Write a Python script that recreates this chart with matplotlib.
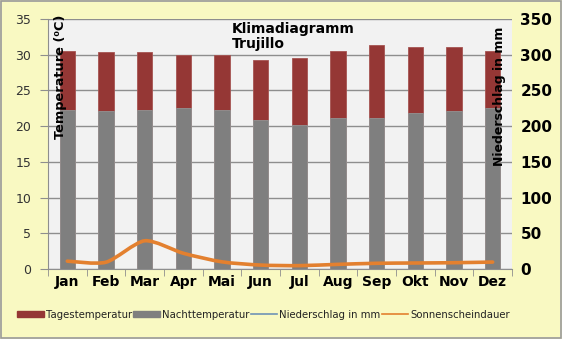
import numpy as np
import matplotlib
matplotlib.use("Agg")
import matplotlib.pyplot as plt
from matplotlib.path import Path
from matplotlib.patches import PathPatch, Patch
from matplotlib.lines import Line2D

months = ["Jan", "Feb", "Mar", "Apr", "Mai", "Jun",
          "Jul", "Aug", "Sep", "Okt", "Nov", "Dez"]
tag_temp = [30.5, 30.4, 30.4, 30.0, 30.0, 29.2, 29.6, 30.5, 31.4, 31.1, 31.1, 30.5]
nacht_temp = [22.3, 22.1, 22.3, 22.5, 22.3, 20.9, 20.2, 21.1, 21.1, 21.9, 22.1, 22.5]
niederschlag = [11, 9.5, 39.5, 22, 10, 5.5, 4.7, 6.5, 8, 8.4, 8.8, 9.7]
sonnenschein = [11, 9.5, 39.5, 22, 10, 5.5, 4.7, 6.5, 8, 8.4, 8.8, 9.7]

RED = "#953735"
GRAY = "#7f7f7f"
ORANGE = "#e3802f"
BLUE = "#6f93b5"
BG = "#f9f9c2"


def smooth_path(xs, ys, k=8.0):
    """Cardinal spline through the points, as cubic Bezier segments."""
    xs = np.asarray(xs, float); ys = np.asarray(ys, float)
    px = np.r_[xs[0], xs, xs[-1]]; py = np.r_[ys[0], ys, ys[-1]]
    verts = [(xs[0], ys[0])]; codes = [Path.MOVETO]
    for i in range(1, len(px) - 2):
        c1 = (px[i] + (px[i + 1] - px[i - 1]) / k, py[i] + (py[i + 1] - py[i - 1]) / k)
        c2 = (px[i + 1] - (px[i + 2] - px[i]) / k, py[i + 1] - (py[i + 2] - py[i]) / k)
        verts += [c1, c2, (px[i + 1], py[i + 1])]
        codes += [Path.CURVE4] * 3
    return Path(verts, codes)


fig = plt.figure(figsize=(5.62, 3.39), dpi=100, facecolor=BG)
fig.patches.append(plt.Rectangle((0.001, 0.002), 0.997, 0.995, transform=fig.transFigure,
                                 fill=False, edgecolor="#9a9a9a", lw=1.2))
ax = fig.add_axes([0.0854, 0.2065, 0.8256, 0.7375])
ax.set_facecolor("#f2f2f2")
x = np.arange(len(months))

ax.bar(x, tag_temp, width=0.4, color=RED, edgecolor="#a65452", lw=0.6, zorder=2)
ax.bar(x, nacht_temp, width=0.4, color=GRAY, edgecolor="#939393", lw=0.6, zorder=3)

ax.set_xlim(-0.5, 11.5)
ax.set_ylim(0, 35)
ax.set_yticks(range(0, 36, 5))
ax.grid(axis="y", color="#8e8e8e", lw=1.0, zorder=1)
ax.set_axisbelow(True)
ax.set_xticks(x)
ax.set_xticklabels(months, fontsize=10, fontweight="bold")
ax.set_xticks(np.arange(-0.5, 12, 1), minor=True)
ax.tick_params(axis="x", which="major", length=0, pad=4)
ax.tick_params(axis="x", which="minor", length=5, color="#8e8e8e")
ax.tick_params(axis="y", length=6, color="#8e8e8e", labelsize=9, labelcolor="#333333", pad=6)
for s in ["top", "right"]:
    ax.spines[s].set_visible(False)
for s in ["left", "bottom"]:
    ax.spines[s].set_color("#8e8e8e")

ax2 = ax.twinx()
ax2.set_ylim(0, 350)
ax2.set_yticks(range(0, 351, 50))
ax2.tick_params(axis="y", length=0, labelsize=11, pad=6)
for lab in ax2.get_yticklabels():
    lab.set_fontweight("bold")
for s in ax2.spines.values():
    s.set_visible(False)

ax2.add_patch(PathPatch(smooth_path(x, niederschlag), fill=False, edgecolor=BLUE,
                        lw=1.2, zorder=4))
ax2.add_patch(PathPatch(smooth_path(x, sonnenschein), fill=False, edgecolor=ORANGE,
                        lw=2.6, capstyle="round", zorder=5))

ax.text(0.012, 0.77, "Temperature (⁰C)", transform=ax.transAxes, rotation=90,
        ha="left", va="center", fontsize=9.3, fontweight="bold")
ax.text(0.988, 0.69, "Niederschlag in mm", transform=ax.transAxes, rotation=90,
        ha="right", va="center", fontsize=9, fontweight="bold")
fig.text(0.413, 0.935, "Klimadiagramm\nTrujillo", ha="left", va="top",
         fontsize=10, fontweight="bold", linespacing=1.1)

handles = [Patch(color=RED), Patch(color=GRAY),
           Line2D([], [], color=BLUE, lw=1.2), Line2D([], [], color=ORANGE, lw=1.2)]
labels = ["Tagestemperatur", "Nachttemperatur", "Niederschlag in mm", "Sonnenscheindauer"]
fig.legend(handles, labels, loc="center", bbox_to_anchor=(0.469, 0.072), ncol=4,
           frameon=False, fontsize=7.3, handlelength=2.6, handleheight=0.6,
           handletextpad=0.2, columnspacing=0.15, labelcolor="#222222")

fig.savefig("out.png", dpi=100, facecolor=BG)
